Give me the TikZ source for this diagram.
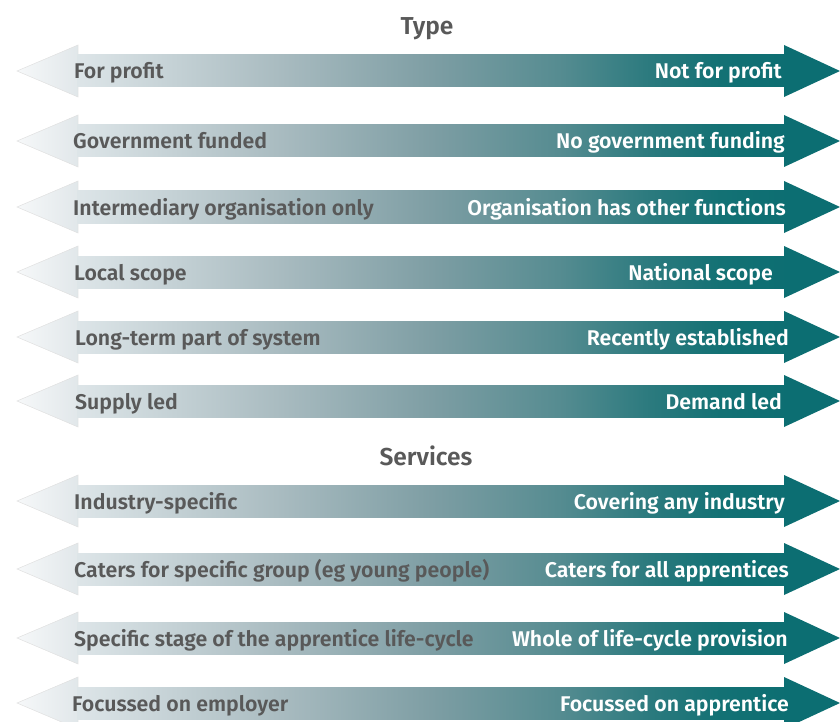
\documentclass[tikz,border=0pt]{standalone}
\usepackage{fontspec}
\setmainfont{Fira Sans}[BoldFont={Fira Sans SemiBold}]
\definecolor{c0}{HTML}{DDE5E8}
\definecolor{c1}{HTML}{AABCC1}
\definecolor{c2}{HTML}{7E9EA4}
\definecolor{c3}{HTML}{568C91}
\definecolor{c4}{HTML}{2B7A7E}
\definecolor{c5}{HTML}{137174}
\definecolor{c6}{HTML}{0D6E72}
\definecolor{h0}{HTML}{F6F8F9}
\definecolor{h1}{HTML}{E1E7EA}
\definecolor{tealhead}{HTML}{0C6E72}
\definecolor{greytxt}{HTML}{595959}
\pgfdeclarehorizontalshading{bodyshade}{100bp}{color(0bp)=(c0); color(25bp)=(c0); color(39bp)=(c1); color(50bp)=(c2); color(59bp)=(c3); color(65.5bp)=(c4); color(70.5bp)=(c5); color(75bp)=(c6); color(100bp)=(c6)}
\pgfdeclarehorizontalshading{headshade}{100bp}{color(0bp)=(h0); color(25bp)=(h0); color(75bp)=(h1); color(100bp)=(h1)}
\tikzset{
  lefthead/.style={shading=headshade, draw=black!12, line width=0.5pt},
  bodybar/.style={shading=bodyshade},
  righthead/.style={fill=tealhead},
  lefttxt/.style={anchor=base west, inner sep=0pt, text=greytxt, font=\fontsize{21.3}{25}\selectfont\bfseries},
  righttxt/.style={anchor=base east, inner sep=0pt, text=white, font=\fontsize{21.3}{25}\selectfont\bfseries},
  titletxt/.style={anchor=base, inner sep=0pt, text=greytxt, font=\fontsize{24.5}{28}\selectfont\bfseries}
}
\newcommand{\arrowrow}[6]{%
  \shade[lefthead] (17,#1) -- (78,{#1-26}) -- (78,{#1+26}) -- cycle;
  \shade[bodybar] (77.5,{#1-16}) rectangle (784.5,{#1+16});
  \fill[righthead] (784,{#1-26}) -- (840,#1) -- (784,{#1+26}) -- cycle;
  \node[lefttxt] (#4L) at (#5,{#1+8}) {#2};
  \node[righttxt] (#4R) at (#6,{#1+8}) {#3};
}
\begin{document}
\begin{tikzpicture}[x=1pt,y=-1pt]
\useasboundingbox (0,0) rectangle (840,722);
\node[titletxt] (type) at (427,35) {Type};
\arrowrow{71}{For profit}{Not for profit}{r1}{74}{782}
\arrowrow{141}{Government funded}{No government funding}{r2}{73}{785}
\arrowrow{207}{Intermediary organisation only}{Organisation has other functions}{r3}{73}{786}
\arrowrow{272}{Local scope}{National scope}{r4}{74}{773}
\arrowrow{337}{Long-term part of system}{Recently established}{r5}{75}{789}
\arrowrow{401}{Supply led}{Demand led}{r6}{75}{782}
\node[titletxt] (services) at (426,465) {Services};
\arrowrow{501}{Industry-specific}{Covering any industry}{r7}{74}{785}
\arrowrow{569}{Caters for specific group (eg young people)}{Caters for all apprentices}{r8}{74}{789}
\arrowrow{638}{Specific stage of the apprentice life-cycle}{Whole of life-cycle provision}{r9}{74}{788}
\arrowrow{703}{Focussed on employer}{Focussed on apprentice}{r10}{72}{789}
\end{tikzpicture}
\end{document}
